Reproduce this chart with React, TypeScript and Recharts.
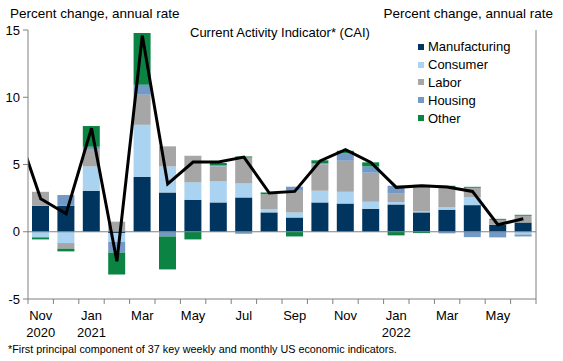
import React from 'react';
import { ComposedChart, Bar, Line, XAxis, YAxis, ReferenceLine } from 'recharts';

// Nov 2020 .. Jun 2022, one bar per month
const months = [
  'Nov 2020', 'Dec 2020', 'Jan 2021', 'Feb 2021', 'Mar 2021', 'Apr 2021', 'May 2021',
  'Jun 2021', 'Jul 2021', 'Aug 2021', 'Sep 2021', 'Oct 2021', 'Nov 2021', 'Dec 2021',
  'Jan 2022', 'Feb 2022', 'Mar 2022', 'Apr 2022', 'May 2022', 'Jun 2022',
];
const manufacturing = [1.93, 1.93, 3.05, -0.1, 4.07, 2.92, 2.38, 2.18, 2.55, 1.44, 1.06, 2.18, 2.1, 1.71, 2.03, 1.44, 1.64, 1.98, 0.52, 0.69];
const consumer = [-0.42, -0.84, 1.8, -0.65, 3.88, 1.94, 1.29, 1.56, 1.04, 0.22, 0.37, 0.87, 0.87, 0.52, 0.18, 0.07, 0.17, 0.59, 0, -0.2];
const labor = [1.04, -0.42, 1.3, 0.75, 2.24, 1.49, 1.98, 1.12, 1.93, 1.14, 1.62, 1.96, 2.31, 2.16, 0.62, 1.98, 1.49, 0.7, 0.37, 0.5];
const housing = [0, 0.8, 0.17, -0.8, 0.74, -0.35, 0, 0.1, -0.15, 0, 0.3, 0.1, 0.57, 0.47, 0.59, 0, -0.12, -0.4, -0.42, -0.15];
const other = [-0.15, -0.2, 1.54, -1.63, 3.84, -2.45, -0.57, 0.15, 0.08, 0.12, -0.35, 0.2, 0.17, 0.3, -0.27, -0.1, 0.12, 0.07, 0.07, 0.07];

// CAI line starts one month earlier (Oct 2020), clipped at the left edge
const caiStart = 'Oct 2020';
const cai = [8.0, 2.45, 1.34, 7.7, -2.2, 14.6, 3.55, 5.18, 5.18, 5.55, 2.88, 3.0, 5.26, 6.1, 5.15, 3.3, 3.42, 3.32, 3.0, 0.52, 0.97];

// labels every other month, by bar index
const tickLabels: Record<number, string[]> = {
  0: ['Nov', '2020'],
  2: ['Jan', '2021'],
  4: ['Mar'],
  6: ['May'],
  8: ['Jul'],
  10: ['Sep'],
  12: ['Nov'],
  14: ['Jan', '2022'],
  16: ['Mar'],
  18: ['May'],
};
const yTicks = [-5, 0, 5, 10, 15];

const colors = {
  manufacturing: '#00355f',
  consumer: '#a9d3f0',
  labor: '#a6a6a6',
  housing: '#7399c6',
  other: '#0b8443',
};

const data = [
  { idx: -1, name: caiStart, cai: cai[0] },
  ...months.map((m, i) => ({
    idx: i,
    name: m,
    manufacturing: manufacturing[i],
    consumer: consumer[i],
    labor: labor[i],
    housing: housing[i],
    other: other[i],
    cai: cai[i + 1],
  })),
];

const xTicks = [];
for (let i = -0.5; i <= 19.5; i += 0.5) xTicks.push(i);

const AXIS = '#808080';

const MonthTick = ({ x, y, payload }: any) => {
  const v = payload.value;
  if (!Number.isInteger(v)) {
    return <line x1={x} x2={x} y1={y} y2={y + 5} stroke={AXIS} />;
  }
  const lines = tickLabels[v];
  if (!lines) return null;
  return (
    <text x={x} y={y} textAnchor='middle' fontSize={13} fill='#000'>
      {lines.map((l, i) => (
        <tspan key={i} x={x} dy={i === 0 ? 21 : 17}>
          {l}
        </tspan>
      ))}
    </text>
  );
};

const legendItems = [
  { name: 'Manufacturing', color: colors.manufacturing },
  { name: 'Consumer', color: colors.consumer },
  { name: 'Labor', color: colors.labor },
  { name: 'Housing', color: colors.housing },
  { name: 'Other', color: colors.other },
];

export default function App() {
  return (
    <div
      style={{
        position: 'absolute',
        left: 0,
        top: 0,
        width: 563,
        height: 361,
        background: '#fff',
        fontFamily: '"Liberation Sans", Arial, sans-serif',
        color: '#000',
      }}
    >
      <ComposedChart
        width={563}
        height={361}
        data={data}
        stackOffset='sign'
        margin={{ top: 30, right: 0, bottom: 22, left: 0 }}
      >
        <XAxis
          dataKey='idx'
          type='number'
          domain={[-0.5, 19.5]}
          allowDataOverflow
          ticks={xTicks}
          interval={0}
          tickSize={0}
          tickMargin={0}
          tickLine={false}
          tick={<MonthTick />}
          height={40}
          stroke={AXIS}
        />
        <YAxis
          yAxisId='left'
          domain={[-5, 15]}
          ticks={yTicks}
          width={28}
          tickSize={5}
          tickMargin={3}
          stroke={AXIS}
          tick={{ fill: '#000', fontSize: 13 }}
        />
        <YAxis
          yAxisId='right'
          orientation='right'
          domain={[-5, 15]}
          ticks={yTicks}
          width={27}
          tickSize={5}
          tickMargin={3}
          stroke={AXIS}
          tick={{ fill: '#000', fontSize: 13, textAnchor: 'start' }}
        />
        <Bar yAxisId='left' dataKey='manufacturing' stackId='a' fill={colors.manufacturing} barSize={17} isAnimationActive={false} />
        <Bar yAxisId='left' dataKey='consumer' stackId='a' fill={colors.consumer} barSize={17} isAnimationActive={false} />
        <Bar yAxisId='left' dataKey='labor' stackId='a' fill={colors.labor} barSize={17} isAnimationActive={false} />
        <Bar yAxisId='left' dataKey='housing' stackId='a' fill={colors.housing} barSize={17} isAnimationActive={false} />
        <Bar yAxisId='left' dataKey='other' stackId='a' fill={colors.other} barSize={17} isAnimationActive={false} />
        <ReferenceLine yAxisId='left' y={0} stroke={AXIS} strokeWidth={1} />
        <Line
          yAxisId='left'
          dataKey='cai'
          type='linear'
          stroke='#000'
          strokeWidth={3}
          dot={false}
          activeDot={false}
          isAnimationActive={false}
        />
      </ComposedChart>

      <div style={{ position: 'absolute', left: 10, top: 6, fontSize: 13.5, whiteSpace: 'nowrap' }}>
        Percent change, annual rate
      </div>
      <div style={{ position: 'absolute', right: 10, top: 6, fontSize: 13.5, whiteSpace: 'nowrap' }}>
        Percent change, annual rate
      </div>
      <div style={{ position: 'absolute', left: 190, top: 25, fontSize: 13, whiteSpace: 'nowrap' }}>
        Current Activity Indicator* (CAI)
      </div>
      <div style={{ position: 'absolute', left: 418, top: 38 }}>
        {legendItems.map(item => (
          <div key={item.name} style={{ display: 'flex', alignItems: 'center', height: 17.8, fontSize: 13 }}>
            <span style={{ width: 6, height: 6, background: item.color, marginRight: 4 }} />
            <span>{item.name}</span>
          </div>
        ))}
      </div>
      <div style={{ position: 'absolute', left: 8, top: 343, fontSize: 10.8, whiteSpace: 'nowrap' }}>
        *First principal component of 37 key weekly and monthly US economic indicators.
      </div>
    </div>
  );
}
